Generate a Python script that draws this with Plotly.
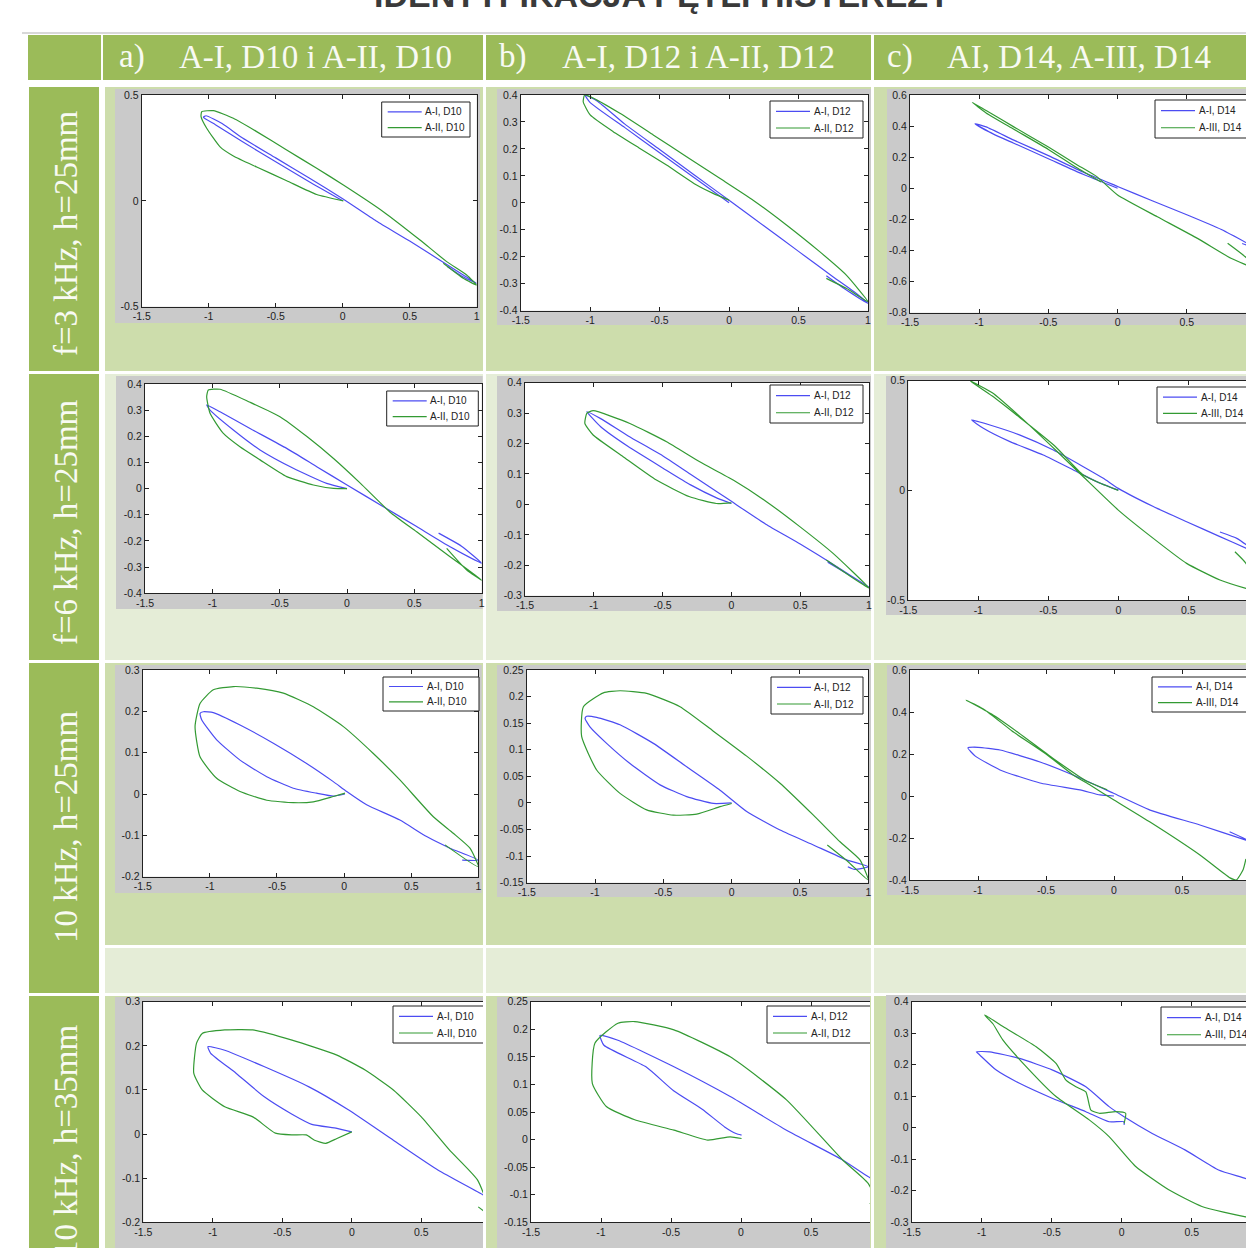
import plotly.graph_objects as go

# ---------------------------------------------------------------------------
# Hysteresis loops, normalised excitation (x) vs. response (y)
# blue = A-I sample, green = A-II / A-III sample
# ---------------------------------------------------------------------------

# row 1: f=3 kHz, h=25mm
r1a_blue_x = [0.0, -0.25, -0.5, -0.75, -0.95, -1.04, -1.02, -0.9, -0.75, -0.5, -0.25, 0.0, 0.25, 0.5, 0.75, 0.9, 1.0, 0.9, 0.78]
r1a_blue_y = [0.0, 0.09, 0.185, 0.28, 0.36, 0.395, 0.402, 0.365, 0.298, 0.203, 0.108, 0.01, -0.095, -0.19, -0.29, -0.35, -0.39, -0.36, -0.31]
r1a_green_x = [0.005, -0.194, -0.418, -0.642, -0.816, -0.915, -1.015, -1.057, -1.052, -0.965, -0.816, -0.642, -0.418, -0.194, 0.005, 0.303, 0.577, 0.776, 0.925, 1.0, 0.9, 0.751]
r1a_green_y = [0.0, 0.03, 0.095, 0.16, 0.212, 0.255, 0.343, 0.398, 0.421, 0.426, 0.39, 0.327, 0.24, 0.154, 0.075, -0.051, -0.185, -0.287, -0.35, -0.398, -0.366, -0.295]

r1b_blue_x = [0.0, -0.25, -0.5, -0.75, -1.0, -1.037, -0.95, -0.75, -0.5, -0.25, 0.0, 0.25, 0.5, 0.75, 0.9, 1.0, 0.85, 0.7]
r1b_blue_y = [0.0, 0.093, 0.186, 0.279, 0.372, 0.4, 0.378, 0.292, 0.198, 0.103, 0.01, -0.085, -0.18, -0.275, -0.33, -0.373, -0.325, -0.27]
r1b_green_x = [0.0, -0.115, -0.234, -0.45, -0.642, -0.834, -1.0, -1.05, -1.04, -1.0, -0.786, -0.546, -0.306, -0.067, 0.173, 0.413, 0.652, 0.844, 1.0, 0.844, 0.7]
r1b_green_y = [0.01, 0.035, 0.066, 0.14, 0.202, 0.264, 0.326, 0.375, 0.4, 0.394, 0.332, 0.252, 0.171, 0.091, 0.01, -0.082, -0.181, -0.268, -0.367, -0.317, -0.28]

r1c_blue_x = [0.0, -0.25, -0.5, -0.75, -0.9, -1.03, -0.95, -0.75, -0.5, -0.25, 0.0, 0.25, 0.5, 0.75, 0.93, 1.0, 0.9]
r1c_blue_y = [0.0, 0.09, 0.19, 0.29, 0.35, 0.415, 0.395, 0.31, 0.21, 0.105, 0.012, -0.08, -0.17, -0.265, -0.35, -0.385, -0.355]
r1c_green_x = [-0.12, -0.3, -0.5, -0.75, -0.95, -1.05, -0.95, -0.75, -0.5, -0.3, -0.15, 0.0, 0.287, 0.577, 0.819, 0.935, 1.0, 0.935, 0.795]
r1c_green_y = [0.04, 0.135, 0.25, 0.38, 0.485, 0.553, 0.5, 0.395, 0.265, 0.155, 0.075, -0.043, -0.183, -0.322, -0.45, -0.495, -0.52, -0.45, -0.354]

# row 2: f=6 kHz, h=25mm
r2a_blue_x = [0.0, -0.151, -0.399, -0.646, -0.844, -1.017, -1.042, -0.943, -0.72, -0.448, -0.225, 0.0, 0.27, 0.517, 0.765, 1.0, 0.85, 0.68]
r2a_blue_y = [0.0, 0.02, 0.078, 0.148, 0.224, 0.3, 0.32, 0.294, 0.23, 0.154, 0.084, 0.014, -0.069, -0.145, -0.222, -0.285, -0.22, -0.17]
r2a_green_x = [0.0, -0.1, -0.25, -0.448, -0.646, -0.795, -0.918, -1.017, -1.042, -1.03, -0.943, -0.72, -0.498, -0.3, -0.1, 0.1, 0.32, 0.517, 0.765, 0.95, 1.0, 0.889, 0.74]
r2a_green_y = [0.0, 0.001, 0.014, 0.046, 0.11, 0.16, 0.211, 0.288, 0.352, 0.377, 0.38, 0.33, 0.275, 0.2, 0.115, 0.02, -0.09, -0.165, -0.26, -0.33, -0.35, -0.311, -0.228]

r2b_blue_x = [0.0, -0.1, -0.3, -0.5, -0.75, -0.95, -1.05, -0.95, -0.75, -0.5, -0.3, -0.1, 0.0, 0.25, 0.5, 0.75, 1.0, 0.85, 0.7]
r2b_blue_y = [0.003, 0.02, 0.065, 0.12, 0.19, 0.255, 0.305, 0.282, 0.225, 0.16, 0.1, 0.04, 0.01, -0.065, -0.13, -0.2, -0.272, -0.23, -0.19]
r2b_green_x = [0.0, -0.109, -0.303, -0.545, -0.787, -1.005, -1.065, -1.05, -1.004, -0.738, -0.471, -0.23, 0.013, 0.255, 0.497, 0.739, 1.0, 0.835, 0.69]
r2b_green_y = [0.005, 0.003, 0.025, 0.08, 0.157, 0.228, 0.266, 0.3, 0.308, 0.266, 0.206, 0.14, 0.08, 0.009, -0.073, -0.161, -0.275, -0.227, -0.183]

r2c_blue_x = [0.0, -0.155, -0.321, -0.536, -0.774, -0.964, -1.048, -0.917, -0.702, -0.464, -0.25, -0.107, 0.0, 0.25, 0.488, 0.726, 0.912, 1.0, 0.85, 0.726]
r2c_blue_y = [0.001, 0.04, 0.093, 0.161, 0.222, 0.283, 0.321, 0.298, 0.252, 0.184, 0.108, 0.055, 0.009, -0.074, -0.143, -0.211, -0.264, -0.29, -0.22, -0.19]
r2c_green_x = [0.0, -0.12, -0.25, -0.45, -0.7, -0.9, -1.06, -0.9, -0.7, -0.45, -0.25, 0.0, 0.25, 0.488, 0.726, 0.912, 1.0, 0.912, 0.833]
r2c_green_y = [0.0, 0.03, 0.07, 0.2, 0.33, 0.43, 0.5, 0.445, 0.335, 0.185, 0.062, -0.09, -0.219, -0.333, -0.409, -0.447, -0.46, -0.333, -0.28]

# row 3: 10 kHz, h=25mm
r3a_blue_x = [0.007, -0.08, -0.204, -0.378, -0.576, -0.775, -0.949, -1.06, -1.073, -1.048, -0.974, -0.775, -0.527, -0.279, -0.08, 0.02, 0.168, 0.416, 0.615, 0.789, 1.0, 0.88]
r3a_blue_y = [0.0, -0.005, 0.002, 0.014, 0.042, 0.082, 0.131, 0.179, 0.195, 0.199, 0.197, 0.167, 0.123, 0.074, 0.03, 0.006, -0.026, -0.063, -0.103, -0.131, -0.16, -0.16]
r3a_green_x = [0.007, -0.08, -0.229, -0.378, -0.576, -0.775, -0.949, -1.073, -1.11, -1.073, -0.974, -0.825, -0.651, -0.452, -0.229, -0.005, 0.218, 0.416, 0.665, 0.814, 0.938, 1.0, 0.752]
r3a_green_y = [0.002, -0.006, -0.019, -0.021, -0.015, 0.006, 0.038, 0.09, 0.163, 0.219, 0.252, 0.26, 0.256, 0.244, 0.211, 0.163, 0.098, 0.034, -0.055, -0.095, -0.131, -0.176, -0.123]

r3b_blue_x = [0.0, -0.134, -0.329, -0.524, -0.744, -0.915, -1.037, -1.073, -1.061, -0.988, -0.817, -0.573, -0.329, -0.085, 0.11, 0.354, 0.598, 0.841, 1.0, 0.9, 0.85]
r3b_blue_y = [0.0, -0.001, 0.012, 0.034, 0.074, 0.112, 0.143, 0.159, 0.163, 0.161, 0.147, 0.112, 0.068, 0.024, -0.016, -0.051, -0.079, -0.107, -0.12, -0.125, -0.12]
r3b_green_x = [0.0, -0.085, -0.256, -0.427, -0.622, -0.817, -0.988, -1.098, -1.085, -0.939, -0.817, -0.622, -0.378, -0.134, 0.11, 0.354, 0.598, 0.793, 0.939, 1.0, 0.85, 0.7]
r3b_green_y = [-0.001, -0.007, -0.021, -0.023, -0.013, 0.018, 0.062, 0.125, 0.181, 0.207, 0.211, 0.206, 0.181, 0.135, 0.088, 0.037, -0.023, -0.073, -0.107, -0.145, -0.11, -0.079]

r3c_blue_x = [0.0, -0.103, -0.25, -0.544, -0.838, -1.02, -1.074, -1.0, -0.838, -0.544, -0.25, -0.007, 0.265, 0.632, 0.97, 1.0, 0.85]
r3c_blue_y = [0.0, 0.005, 0.029, 0.062, 0.124, 0.19, 0.229, 0.232, 0.219, 0.162, 0.086, 0.014, -0.067, -0.138, -0.21, -0.215, -0.17]
r3c_green_x = [-0.05, -0.2, -0.45, -0.7, -0.9, -1.088, -0.95, -0.75, -0.5, -0.3, -0.176, 0.0, 0.265, 0.632, 0.853, 0.9, 0.95, 0.97]
r3c_green_y = [0.03, 0.07, 0.18, 0.3, 0.39, 0.457, 0.41, 0.31, 0.2, 0.1, 0.052, -0.019, -0.124, -0.281, -0.39, -0.4, -0.35, -0.3]

# row 4: 10 kHz, h=35mm
r4a_blue_x = [0.0, -0.107, -0.288, -0.43, -0.632, -0.833, -1.015, -1.035, -0.914, -0.632, -0.308, -0.025, 0.299, 0.622, 0.945, 1.0]
r4a_blue_y = [0.005, 0.013, 0.022, 0.045, 0.085, 0.138, 0.183, 0.198, 0.19, 0.153, 0.107, 0.055, -0.014, -0.082, -0.138, -0.15]
r4a_green_x = [0.0, -0.107, -0.187, -0.268, -0.328, -0.43, -0.55, -0.712, -0.914, -1.076, -1.137, -1.117, -1.076, -0.914, -0.712, -0.43, -0.107, 0.096, 0.299, 0.5, 0.702, 0.904, 1.0, 0.91]
r4a_green_y = [0.005, -0.01, -0.021, -0.014, -0.002, -0.002, 0.002, 0.039, 0.062, 0.1, 0.138, 0.206, 0.228, 0.236, 0.236, 0.213, 0.179, 0.145, 0.1, 0.039, -0.036, -0.104, -0.185, -0.165]

r4b_blue_x = [0.004, -0.036, -0.117, -0.277, -0.479, -0.679, -0.979, -1.007, -0.879, -0.479, -0.077, 0.325, 0.726, 0.907, 1.0]
r4b_blue_y = [0.008, 0.011, 0.023, 0.055, 0.088, 0.132, 0.171, 0.189, 0.18, 0.132, 0.078, 0.017, -0.037, -0.067, -0.08]
r4b_green_x = [0.004, -0.077, -0.237, -0.479, -0.759, -0.962, -1.062, -1.043, -0.879, -0.759, -0.479, -0.077, 0.325, 0.726, 0.907, 1.0, 0.92]
r4b_green_y = [0.002, 0.005, -0.001, 0.017, 0.036, 0.06, 0.102, 0.175, 0.211, 0.214, 0.199, 0.15, 0.072, -0.037, -0.079, -0.13, -0.115]

r4c_blue_x = [0.017, 0.017, -0.09, -0.256, -0.493, -0.73, -0.896, -1.014, -1.038, -0.943, -0.73, -0.493, -0.256, -0.09, 0.017, 0.218, 0.455, 0.692, 0.877, 1.0]
r4c_blue_y = [0.009, 0.019, 0.019, 0.051, 0.093, 0.141, 0.183, 0.231, 0.241, 0.241, 0.22, 0.183, 0.13, 0.067, 0.035, -0.018, -0.071, -0.134, -0.16, -0.18]
r4c_green_x = [0.017, 0.028, -0.043, -0.161, -0.22, -0.256, -0.327, -0.398, -0.469, -0.611, -0.848, -0.979, -0.92, -0.848, -0.659, -0.469, -0.232, -0.09, 0.1, 0.336, 0.573, 0.877, 1.0]
r4c_green_y = [0.014, 0.046, 0.051, 0.046, 0.056, 0.114, 0.13, 0.151, 0.204, 0.257, 0.321, 0.358, 0.33, 0.278, 0.183, 0.099, 0.025, -0.028, -0.123, -0.197, -0.25, -0.282, -0.29]

# tick values
x_ticks = [-1.5, -1, -0.5, 0, 0.5, 1]
y_ticks_05 = [-0.5, 0, 0.5]
y_ticks_04 = [-0.4, -0.3, -0.2, -0.1, 0, 0.1, 0.2, 0.3, 0.4]
y_ticks_08_06 = [-0.8, -0.6, -0.4, -0.2, 0, 0.2, 0.4, 0.6]
y_ticks_03_04 = [-0.3, -0.2, -0.1, 0, 0.1, 0.2, 0.3, 0.4]
y_ticks_02_03 = [-0.2, -0.1, 0, 0.1, 0.2, 0.3]
y_ticks_015_025 = [-0.15, -0.1, -0.05, 0, 0.05, 0.1, 0.15, 0.2, 0.25]
y_ticks_04_06 = [-0.4, -0.2, 0, 0.2, 0.4, 0.6]

# table text
title_text = "IDENTYFIKACJA PĘTLI HISTEREZY"
col_tags = ["a)", "b)", "c)"]
col_titles = ["A-I, D10 i A-II, D10", "A-I, D12 i A-II, D12", "AI, D14, A-III, D14"]
row_titles = ["f=3 kHz, h=25mm", "f=6 kHz, h=25mm", "10 kHz, h=25mm", "10 kHz, h=35mm"]
legend_a = ["A-I, D10", "A-II, D10"]
legend_b = ["A-I, D12", "A-II, D12"]
legend_c = ["A-I, D14", "A-III, D14"]

# ---------------------------------------------------------------------------
W, H = 1246, 1248


def fx(px):
    return px / W


def fy(py):
    return 1 - py / H


HEADER_GREEN = "#9BBB59"
BAND_DARK = "#CDDDAC"
BAND_LIGHT = "#E5EDD7"
FIG_GRAY = "#CACACA"
BLUE = "#4C4CF2"
GREEN = "#339A33"
INK = "#222222"

# panel layout: axes box (left, top, bottom), x=1 position, visible right edge,
# grey figure frame, legend box
panels = [
    dict(bx=r1a_blue_x, by=r1a_blue_y, gx=r1a_green_x, gy=r1a_green_y, yr=(-0.5, 0.5), yt=y_ticks_05,
         L=141.7, T=95, B=306.7, R=476.7, clip=None, gray=(115, 89, 480, 323), leg=(381.7, 102, 470, 137), names=legend_a),
    dict(bx=r1b_blue_x, by=r1b_blue_y, gx=r1b_green_x, gy=r1b_green_y, yr=(-0.4, 0.4), yt=y_ticks_04,
         L=520.7, T=95, B=310.7, R=868, clip=None, gray=(497, 89, 871, 325), leg=(770, 101, 863, 138), names=legend_b),
    dict(bx=r1c_blue_x, by=r1c_blue_y, gx=r1c_green_x, gy=r1c_green_y, yr=(-0.8, 0.6), yt=y_ticks_08_06,
         L=910, T=95, B=312.7, R=1256, clip=1246, gray=(887, 89, 1246, 325), leg=(1155, 100, None, 138), names=legend_c),
    dict(bx=r2a_blue_x, by=r2a_blue_y, gx=r2a_green_x, gy=r2a_green_y, yr=(-0.4, 0.4), yt=y_ticks_04,
         L=145, T=384, B=593.3, R=481.7, clip=None, gray=(116, 376, 482.7, 609), leg=(386.7, 391, 478.3, 426), names=legend_a),
    dict(bx=r2b_blue_x, by=r2b_blue_y, gx=r2b_green_x, gy=r2b_green_y, yr=(-0.3, 0.4), yt=y_ticks_03_04,
         L=525, T=382.7, B=595.7, R=869, clip=None, gray=(497, 376, 871, 611), leg=(770, 385, 863, 423), names=legend_b),
    dict(bx=r2c_blue_x, by=r2c_blue_y, gx=r2c_green_x, gy=r2c_green_y, yr=(-0.5, 0.5), yt=y_ticks_05,
         L=908.3, T=380.7, B=600, R=1258.3, clip=1246, gray=(886, 376, 1246, 615), leg=(1157, 387, None, 423), names=legend_c),
    dict(bx=r3a_blue_x, by=r3a_blue_y, gx=r3a_green_x, gy=r3a_green_y, yr=(-0.2, 0.3), yt=y_ticks_02_03,
         L=142.7, T=670, B=876.7, R=478.3, clip=None, gray=(115, 665, 481.7, 893), leg=(383, 677, 479, 711), names=legend_a),
    dict(bx=r3b_blue_x, by=r3b_blue_y, gx=r3b_green_x, gy=r3b_green_y, yr=(-0.15, 0.25), yt=y_ticks_015_025,
         L=526.7, T=670, B=882.7, R=868.3, clip=None, gray=(497, 665, 871, 897), leg=(771, 677, 863, 714), names=legend_b),
    dict(bx=r3c_blue_x, by=r3c_blue_y, gx=r3c_green_x, gy=r3c_green_y, yr=(-0.4, 0.6), yt=y_ticks_04_06,
         L=910, T=670, B=880, R=1250, clip=1246, gray=(887, 665, 1246, 895), leg=(1152, 677, None, 712), names=legend_c),
    dict(bx=r4a_blue_x, by=r4a_blue_y, gx=r4a_green_x, gy=r4a_green_y, yr=(-0.2, 0.3), yt=y_ticks_02_03,
         L=143.3, T=1001.7, B=1222.3, R=490.8, clip=483, gray=(115, 997, 483, 1250), leg=(393, 1006, None, 1043), names=legend_a),
    dict(bx=r4b_blue_x, by=r4b_blue_y, gx=r4b_green_x, gy=r4b_green_y, yr=(-0.15, 0.25), yt=y_ticks_015_025,
         L=531, T=1001.7, B=1222.3, R=881, clip=870, gray=(497, 997, 870, 1250), leg=(767, 1006, None, 1043), names=legend_b),
    dict(bx=r4c_blue_x, by=r4c_blue_y, gx=r4c_green_x, gy=r4c_green_y, yr=(-0.3, 0.4), yt=y_ticks_03_04,
         L=911.7, T=1001.7, B=1222.3, R=1261.7, clip=1246, gray=(886, 995, 1246, 1250), leg=(1161, 1007, None, 1045), names=legend_c),
]

shapes = []
annotations = []


def rect(x0, y0, x1, y1, fill, layer="below"):
    shapes.append(dict(type="rect", xref="paper", yref="paper",
                       x0=fx(x0), x1=fx(x1), y0=fy(y1), y1=fy(y0),
                       fillcolor=fill, line=dict(width=0), layer=layer))


# ---- table background ----
shapes.append(dict(type="line", xref="paper", yref="paper", x0=fx(22), x1=fx(1246), y0=fy(33), y1=fy(33),
                   line=dict(color="#D8D8D8", width=2), layer="below"))
col_edges = [(105, 483), (486, 871), (874, 1246)]
rect(28, 35, 101, 80, HEADER_GREEN)
for (c0, c1) in [(103, 483), (486, 871), (874, 1246)]:
    rect(c0, 35, c1, 80, HEADER_GREEN)

row_spans = [(87, 371), (374, 660), (663, 993), (996, 1260)]
for (r0, r1) in row_spans:
    rect(29, r0, 99, r1, HEADER_GREEN)

band_rows = [(87, 371, BAND_DARK), (374, 660, BAND_LIGHT), (663, 945, BAND_DARK),
             (948, 993, BAND_LIGHT), (996, 1260, BAND_DARK)]
for (r0, r1, col) in band_rows:
    for (c0, c1) in col_edges:
        rect(c0, r0, c1, r1, col)

# ---- header and row labels ----
SERIF = "Liberation Serif, Times New Roman, serif"
tag_x = [117, 497, 885]
title_x = [177, 560, 945]
for k in range(3):
    annotations.append(dict(xref="paper", yref="paper", x=fx(tag_x[k]), y=fy(57), xanchor="left", yanchor="middle",
                            text=col_tags[k], showarrow=False, font=dict(family=SERIF, size=33, color="#F8FAF3")))
    annotations.append(dict(xref="paper", yref="paper", x=fx(title_x[k]), y=fy(57), xanchor="left", yanchor="middle",
                            text=col_titles[k], showarrow=False, font=dict(family=SERIF, size=33, color="#F8FAF3")))

row_centres = [233, 522, 827, 1141]
for k in range(4):
    annotations.append(dict(xref="paper", yref="paper", x=fx(66), y=fy(row_centres[k]), xanchor="center",
                            yanchor="middle", textangle=-90, text=row_titles[k], showarrow=False,
                            font=dict(family=SERIF, size=33, color="#F8FAF3")))

annotations.append(dict(xref="paper", yref="paper", x=fx(662), y=fy(-5), xanchor="center", yanchor="middle",
                        text="<b>" + title_text + "</b>", showarrow=False,
                        font=dict(family="Liberation Sans, Arial, sans-serif", size=34, color="#3A3A3A")))

# ---- panels ----
fig = go.Figure()
layout_axes = {}
for i, p in enumerate(panels, start=1):
    sfx = "" if i == 1 else str(i)
    xa, ya = "x" + sfx, "y" + sfx
    scale = (p["R"] - p["L"]) / 2.5
    right = p["R"] if p["clip"] is None else min(p["R"], p["clip"])
    xmax = -1.5 + (right - p["L"]) / scale
    gx0, gy0, gx1, gy1 = p["gray"]
    rect(gx0, gy0, gx1, gy1, FIG_GRAY)
    rect(p["L"], p["T"], right, p["B"], "white")

    tickfont = dict(family="Liberation Sans, Arial, sans-serif", size=10.5, color="#1E1E1E")
    layout_axes["xaxis" + sfx] = dict(
        domain=[fx(p["L"]), fx(right)], range=[-1.5, xmax], anchor=ya,
        tickvals=x_ticks, ticktext=[f"{v:g}" for v in x_ticks],
        ticks="inside", ticklen=4, tickcolor=INK, showline=True, linecolor=INK, linewidth=1,
        mirror="ticks", showgrid=False, zeroline=False, tickfont=tickfont, fixedrange=True)
    layout_axes["yaxis" + sfx] = dict(
        domain=[fy(p["B"]), fy(p["T"])], range=list(p["yr"]), anchor=xa,
        tickvals=p["yt"], ticktext=[f"{v:g}" for v in p["yt"]],
        ticks="inside", ticklen=4, tickcolor=INK, showline=True, linecolor=INK, linewidth=1,
        mirror="ticks" if p["clip"] is None else False, showgrid=False, zeroline=False,
        tickfont=tickfont, fixedrange=True)

    fig.add_trace(go.Scatter(x=p["bx"], y=p["by"], mode="lines", name=p["names"][0],
                             line=dict(color=BLUE, width=1.2, shape="spline", smoothing=0.5),
                             xaxis=xa, yaxis=ya, showlegend=False, hoverinfo="skip"))
    fig.add_trace(go.Scatter(x=p["gx"], y=p["gy"], mode="lines", name=p["names"][1],
                             line=dict(color=GREEN, width=1.2, shape="spline", smoothing=0.5),
                             xaxis=xa, yaxis=ya, showlegend=False, hoverinfo="skip"))

    # boxed legend inside each panel (open on the side where the figure is cropped)
    lx0, ly0, lx1, ly1 = p["leg"]
    if lx1 is None:
        edge = p["clip"] + 30 if p["clip"] >= 1246 else p["clip"]
        path = (f"M {fx(edge)},{fy(ly0)} L {fx(lx0)},{fy(ly0)} L {fx(lx0)},{fy(ly1)} L {fx(edge)},{fy(ly1)}")
    else:
        path = (f"M {fx(lx0)},{fy(ly0)} L {fx(lx1)},{fy(ly0)} L {fx(lx1)},{fy(ly1)} L {fx(lx0)},{fy(ly1)} Z")
    shapes.append(dict(type="path", xref="paper", yref="paper", path=path, fillcolor="white",
                       line=dict(color=INK, width=1), layer="above"))
    hgt = ly1 - ly0
    for k, col in enumerate([BLUE, GREEN]):
        yy = ly0 + hgt * (0.28 if k == 0 else 0.73)
        shapes.append(dict(type="line", xref="paper", yref="paper", x0=fx(lx0 + 6), x1=fx(lx0 + 40),
                           y0=fy(yy), y1=fy(yy), line=dict(color=col, width=1.2), layer="above"))
        annotations.append(dict(xref="paper", yref="paper", x=fx(lx0 + 41.5), y=fy(yy), xanchor="left",
                                yanchor="middle", text=p["names"][k], showarrow=False,
                                font=dict(family="Liberation Sans, Arial, sans-serif", size=10, color=INK)))

fig.update_layout(
    width=W, height=H,
    margin=dict(l=0, r=0, t=0, b=0, autoexpand=False),
    paper_bgcolor="white", plot_bgcolor="white",
    showlegend=False,
    shapes=shapes, annotations=annotations,
    **layout_axes,
)

fig.write_html("out.html", config={"displayModeBar": False})
